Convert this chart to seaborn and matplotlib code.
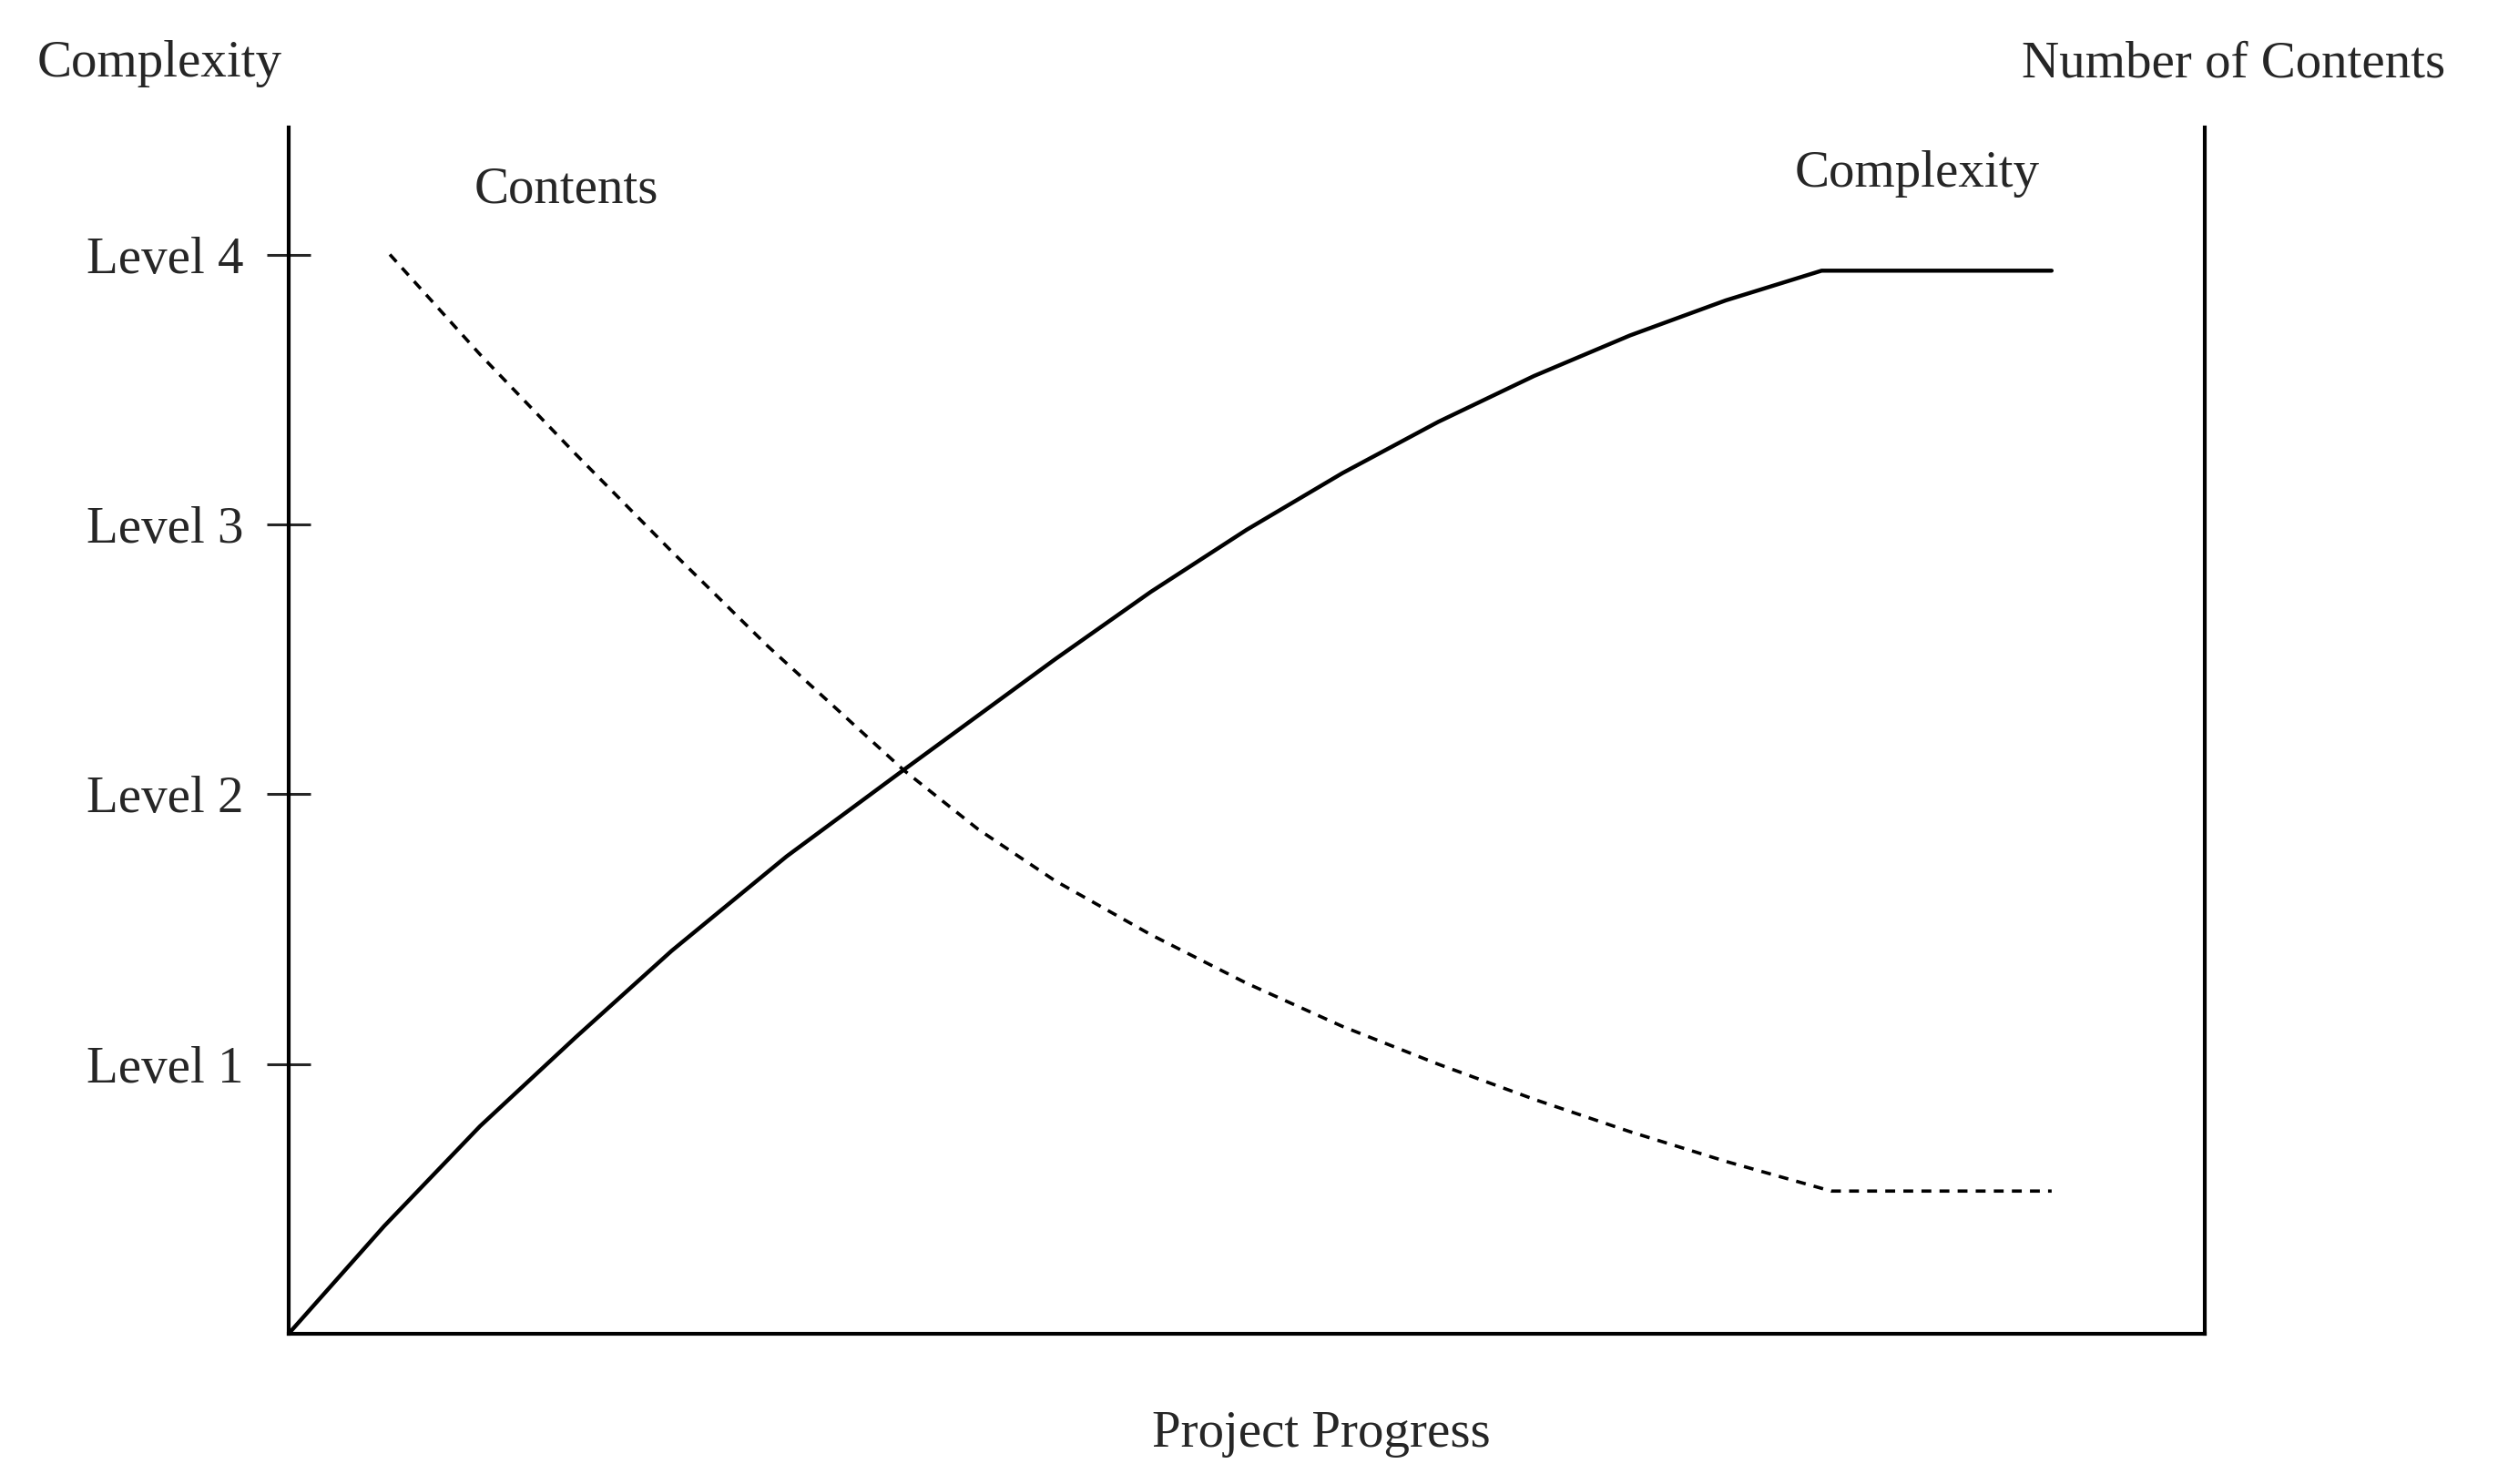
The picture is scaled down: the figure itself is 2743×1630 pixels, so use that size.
import matplotlib.pyplot as plt
import numpy as np
import pandas as pd
import seaborn as sns

# values (x = project progress 0..1, y = level units)
complexity_x = [0.0, 0.05, 0.1, 0.15, 0.2, 0.26, 0.321, 0.4, 0.45, 0.5, 0.55, 0.6, 0.65, 0.7, 0.75, 0.8, 0.92]
complexity_y = [0.0, 0.4, 0.77, 1.1, 1.42, 1.77, 2.09, 2.5, 2.75, 2.98, 3.19, 3.38, 3.55, 3.7, 3.83, 3.94, 3.94]
contents_x = [0.053, 0.1, 0.15, 0.2, 0.25, 0.321, 0.36, 0.4, 0.45, 0.5, 0.55, 0.6, 0.65, 0.7, 0.75, 0.805, 0.92]
contents_y = [4.0, 3.63, 3.26, 2.9, 2.55, 2.09, 1.87, 1.68, 1.48, 1.3, 1.14, 1.0, 0.87, 0.75, 0.64, 0.53, 0.53]
level_ticks = [1, 2, 3, 4]
level_labels = ['Level 1', 'Level 2', 'Level 3', 'Level 4']

sns.set_style('white')
plt.rcParams['font.family'] = ['Liberation Serif', 'DejaVu Serif']

fig = plt.figure(figsize=(27.43, 16.30), dpi=100)
ax = fig.add_axes([0.1154, 0.101, 0.7673, 0.813])

cx = pd.DataFrame({'x': complexity_x, 'y': complexity_y})
tx = pd.DataFrame({'x': contents_x, 'y': contents_y})
sns.lineplot(data=cx, x='x', y='y', ax=ax, color='black', linewidth=3.2)
sns.lineplot(data=tx, x='x', y='y', ax=ax, color='black', linewidth=2.6, linestyle=(0, (3, 2.5)))

ax.set_xlim(0, 1)
ax.set_ylim(0, 4.47)
ax.set_xticks([])
ax.set_yticks(level_ticks)
ax.set_yticklabels(level_labels, fontsize=41)
ax.tick_params(axis='y', direction='inout', length=34, width=2.2, pad=18, left=True)
ax.set_xlabel('')
ax.set_ylabel('')
for side in ['left', 'bottom', 'right']:
    ax.spines[side].set_visible(True)
    ax.spines[side].set_linewidth(3)
    ax.spines[side].set_color('black')
ax.spines['top'].set_visible(False)

fig.text(0.064, 0.957, 'Complexity', fontsize=41, ha='center', va='center')
fig.text(0.894, 0.957, 'Number of Contents', fontsize=41, ha='center', va='center')
fig.text(0.529, 0.034, 'Project Progress', fontsize=41, ha='center', va='center')
ax.text(0.145, 4.24, 'Contents', fontsize=41, ha='center', va='center')
ax.text(0.85, 4.3, 'Complexity', fontsize=41, ha='center', va='center')

fig.savefig('out.png', dpi=100, facecolor='white')
